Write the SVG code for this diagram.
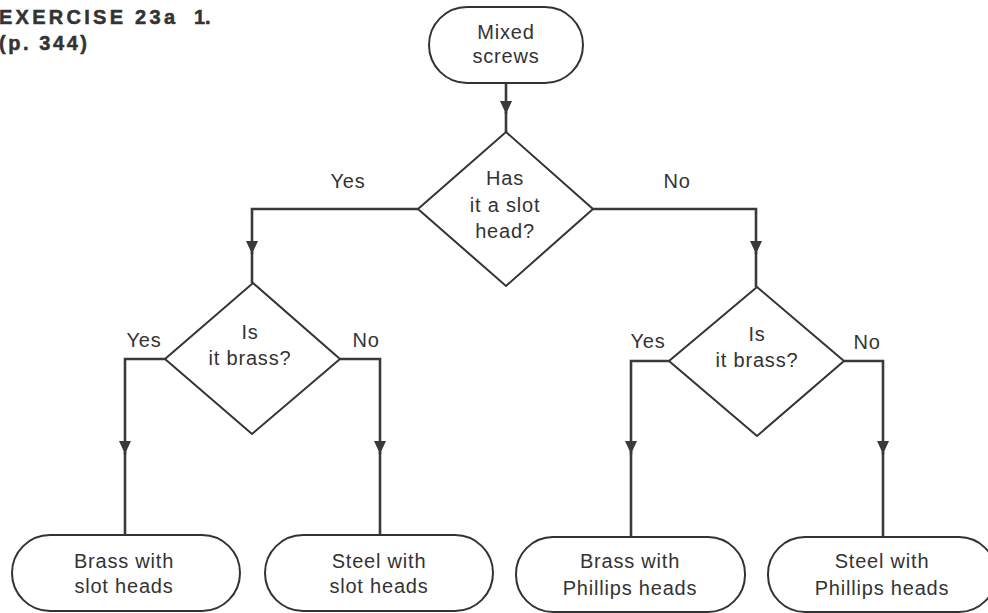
<svg xmlns="http://www.w3.org/2000/svg" width="988" height="613" viewBox="0 0 988 613">
<style>
text{font-family:"Liberation Sans",Arial,sans-serif;fill:#333;}
.t{font-size:20px;letter-spacing:0.8px;text-anchor:middle;}
.h{font-size:20px;font-weight:bold;stroke:#333;stroke-width:0.5px;}
.shape{fill:#fff;stroke:#333;stroke-width:2;}
.con path{fill:none;stroke:#3a3a3a;stroke-width:2.6;}
</style>
<defs>
<marker id="arr" markerUnits="userSpaceOnUse" markerWidth="14" markerHeight="14" refX="13" refY="7" orient="auto" viewBox="0 0 14 14">
<path d="M0,1 L13,7 L0,13 Z" fill="#3a3a3a"/>
</marker>
</defs>
<rect width="988" height="613" fill="#fff"/>
<g id="header">
<text class="h" x="-1" y="24" textLength="176" lengthAdjust="spacing">EXERCISE 23a</text>
<text class="h" x="194" y="24">1.</text>
<text class="h" x="-1" y="50" textLength="88" lengthAdjust="spacing">(p. 344)</text>
</g>
<g class="con" id="connectors">
<path d="M506,83 V114" marker-end="url(#arr)"/><path d="M506,112 V132"/>
<path d="M418,209 H252 V254" marker-end="url(#arr)"/><path d="M252,252 V283"/>
<path d="M593,209 H756 V254" marker-end="url(#arr)"/><path d="M756,252 V287"/>
<path d="M165,359 H125 V454" marker-end="url(#arr)"/><path d="M125,452 V535"/>
<path d="M340,359 H380 V454" marker-end="url(#arr)"/><path d="M380,452 V535"/>
<path d="M669,361 H631 V454" marker-end="url(#arr)"/><path d="M631,452 V537"/>
<path d="M844,361 H883 V454" marker-end="url(#arr)"/><path d="M883,452 V537"/>
</g>
<g id="labels">
<text class="t" x="348" y="188">Yes</text>
<text class="t" x="677" y="188">No</text>
<text class="t" x="144" y="347">Yes</text>
<text class="t" x="366" y="347">No</text>
<text class="t" x="648" y="348">Yes</text>
<text class="t" x="867" y="349">No</text>
</g>
<g id="start">
<rect class="shape" x="429" y="7" width="154" height="76" rx="38"/>
<text class="t" x="506" y="39">Mixed</text>
<text class="t" x="506" y="63">screws</text>
</g>
<g id="slot">
<polygon class="shape" points="506,132 593,209 506,286 418,209"/>
<text class="t" x="505" y="185">Has</text>
<text class="t" x="505" y="212">it a slot</text>
<text class="t" x="505" y="238">head?</text>
</g>
<g id="brassL">
<polygon class="shape" points="253,283 340,359 252,434 165,359"/>
<text class="t" x="250" y="339">Is</text>
<text class="t" x="250" y="365">it brass?</text>
</g>
<g id="brassR">
<polygon class="shape" points="757,287 844,361 757,436 669,361"/>
<text class="t" x="757" y="341">Is</text>
<text class="t" x="757" y="367">it brass?</text>
</g>
<g id="t1">
<rect class="shape" x="12" y="535" width="228" height="76" rx="38"/>
<text class="t" x="124" y="568">Brass with</text>
<text class="t" x="124" y="593">slot heads</text>
</g>
<g id="t2">
<rect class="shape" x="265" y="535" width="228" height="76" rx="38"/>
<text class="t" x="379" y="568">Steel with</text>
<text class="t" x="379" y="593">slot heads</text>
</g>
<g id="t3">
<rect class="shape" x="516" y="537" width="229" height="75" rx="37"/>
<text class="t" x="630" y="568">Brass with</text>
<text class="t" x="630" y="595">Phillips heads</text>
</g>
<g id="t4">
<rect class="shape" x="768" y="537" width="228" height="75" rx="37"/>
<text class="t" x="882" y="568">Steel with</text>
<text class="t" x="882" y="595">Phillips heads</text>
</g>
</svg>
